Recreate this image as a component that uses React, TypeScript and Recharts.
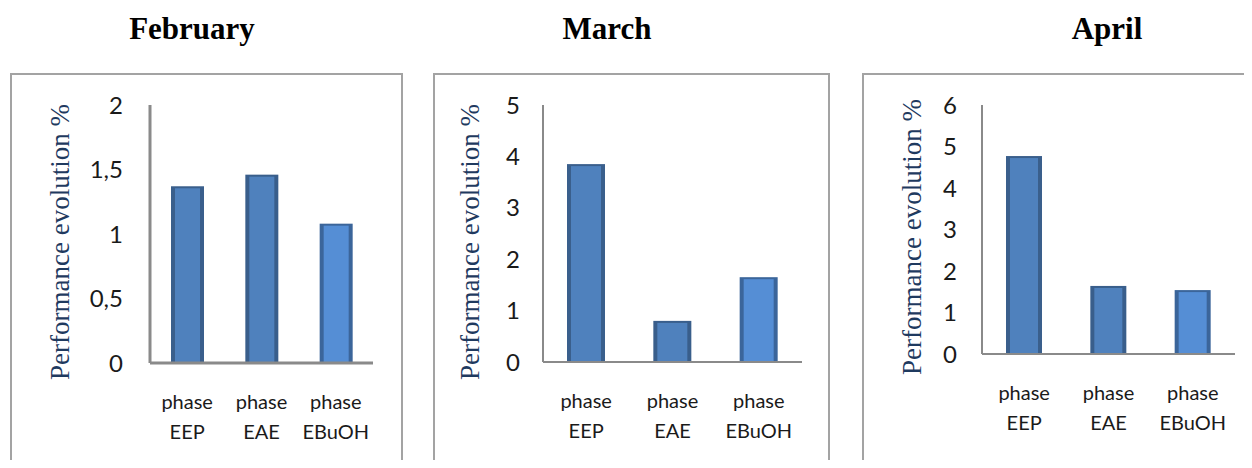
import { Bar, BarChart, XAxis, YAxis } from "recharts";

const CATEGORIES = ["phase EEP", "phase EAE", "phase EBuOH"];
const MONTHS = ["February", "March", "April"];
const FEBRUARY = [1.37, 1.46, 1.08];
const MARCH = [3.85, 0.8, 1.65];
const APRIL = [4.77, 1.64, 1.54];
const FEB_TICKS = [0, 0.5, 1, 1.5, 2];
const MAR_TICKS = [0, 1, 2, 3, 4, 5];
const APR_TICKS = [0, 1, 2, 3, 4, 5, 6];
const Y_TITLE = "Performance evolution %";

const FILLS = ["#4F81BD", "#4F81BD", "#558ED5"];
const EDGES = ["#3A5F8C", "#395E8B", "#3B659A"];

// page positions of the month headings and the rotated y titles
const HEAD_X = [192, 607, 1107];
const YT_POS = [
  [60, 242],
  [470, 242],
  [912, 237],
];

function BarShape(props: any) {
  const { x, y, width, height, index } = props;
  if (!height || height <= 0) return null;
  return (
    <g>
      <rect x={x} y={y} width={width} height={height} fill={EDGES[index]} />
      <rect x={x + 4} y={y + 2} width={width - 8} height={height - 2} fill={FILLS[index]} />
    </g>
  );
}

function CatTick(props: any) {
  const { x, y, payload } = props;
  const [l1, l2] = String(payload.value).split(" ");
  return (
    <text textAnchor="middle" style={{ fontFamily: "Lato", fontSize: 20 }} fill="#1a1a1a">
      <tspan x={x} y={y + 46}>{l1}</tspan>
      <tspan x={x} y={y + 76}>{l2}</tspan>
    </text>
  );
}

type PanelProps = {
  values: number[];
  ticks: number[];
  left: number;
  width: number;
  margin: { top: number; right: number; bottom: number; left: number };
  gap: number;
  barSize: number;
  axisWidth: number;
  comma?: boolean;
};

function Panel({ values, ticks, left, width, margin, gap, barSize, axisWidth, comma }: PanelProps) {
  const data = CATEGORIES.map((c, i) => ({ name: c, value: values[i] }));
  const axisLine = { stroke: "#8a8a8a", strokeWidth: axisWidth };
  return (
    <div style={{ position: "absolute", left, top: 73 }}>
      <div
        style={{
          position: "absolute",
          left: 0,
          top: 0,
          width: width - 4,
          height: 420,
          border: "2px solid #a3a3a3",
        }}
      />
      <BarChart width={width} height={395} data={data} margin={margin} style={{ position: "absolute", left: 0, top: 0 }}>
        <XAxis
          dataKey="name"
          axisLine={axisLine}
          tickLine={false}
          tickSize={0}
          tickMargin={0}
          interval={0}
          height={80}
          tick={(p: any) => <CatTick {...p} />}
        />
        <YAxis
          domain={[0, ticks[ticks.length - 1]]}
          ticks={ticks}
          axisLine={axisLine}
          tickLine={false}
          tickSize={0}
          tickMargin={gap}
          width={100}
          tick={{ fill: "#1a1a1a", fontSize: 24, fontFamily: "Lato" }}
          tickFormatter={(v: number) => (comma ? String(v).replace(".", ",") : String(v))}
        />
        <Bar dataKey="value" barSize={barSize} shape={<BarShape />} isAnimationActive={false} />
      </BarChart>
    </div>
  );
}

export default function App() {
  return (
    <div style={{ position: "relative", width: 1252, height: 468, margin: -8, overflow: "hidden", background: "#fff" }}>
      <Panel
        values={FEBRUARY}
        ticks={FEB_TICKS}
        left={10}
        width={393}
        margin={{ top: 32, right: 30, bottom: 25, left: 40 }}
        gap={27}
        barSize={33}
        axisWidth={3}
        comma
      />
      <Panel
        values={MARCH}
        ticks={MAR_TICKS}
        left={433}
        width={397}
        margin={{ top: 32, right: 28, bottom: 26, left: 10 }}
        gap={23}
        barSize={38}
        axisWidth={2}
      />
      <Panel
        values={APRIL}
        ticks={APR_TICKS}
        left={862}
        width={400}
        margin={{ top: 32, right: 27, bottom: 34, left: 20 }}
        gap={25}
        barSize={36}
        axisWidth={2}
      />
      <svg width={1252} height={468} style={{ position: "absolute", left: 0, top: 0, pointerEvents: "none" }}>
        {MONTHS.map((m, i) => (
          <text
            key={m}
            x={HEAD_X[i]}
            y={39}
            textAnchor="middle"
            fontFamily="Liberation Serif"
            fontWeight="bold"
            fontSize={31}
            fill="#000"
          >
            {m}
          </text>
        ))}
        {YT_POS.map(([tx, ty], i) => (
          <text
            key={i}
            x={tx}
            y={ty}
            transform={`rotate(-90 ${tx} ${ty})`}
            textAnchor="middle"
            dominantBaseline="central"
            fontFamily="Liberation Serif"
            fontSize={27}
            fill="#1F3A5F"
          >
            {Y_TITLE}
          </text>
        ))}
      </svg>
    </div>
  );
}
